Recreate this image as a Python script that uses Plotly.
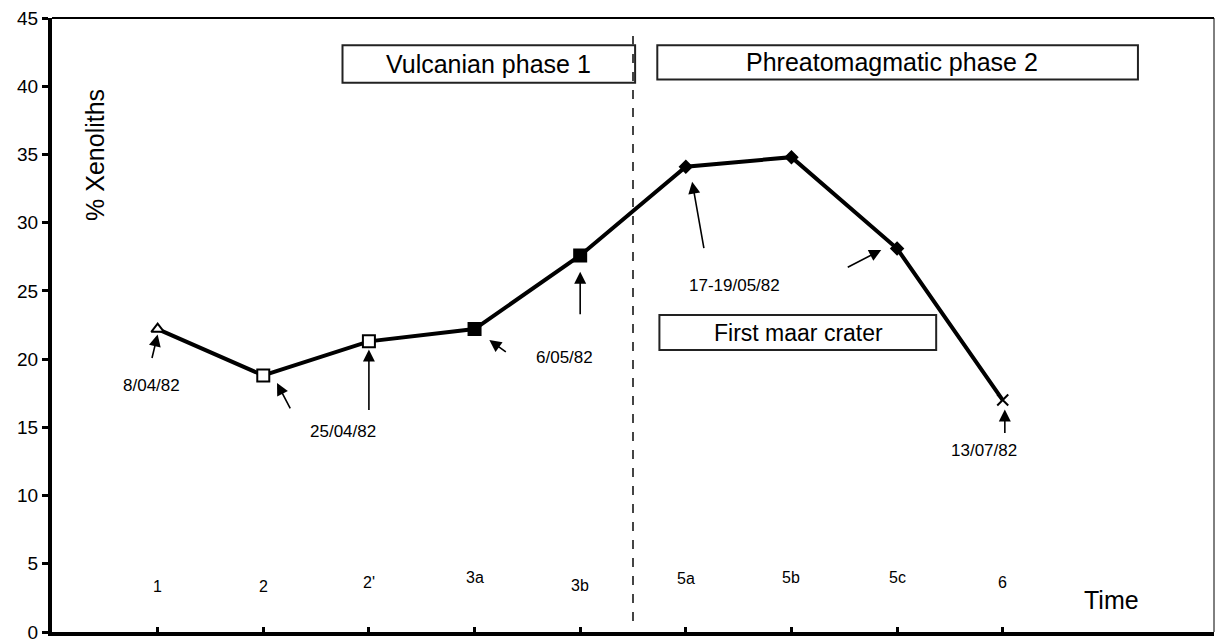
import plotly.graph_objects as go

# data
samples = ['1', '2', "2'", '3a', '3b', '5a', '5b', '5c', '6']
xenoliths = [22.2, 18.8, 21.3, 22.2, 27.6, 34.1, 34.8, 28.1, 17.0]
symbols = ['triangle-up', 'square', 'square', 'square', 'square',
           'diamond', 'diamond', 'diamond', 'x-thin']
fills = ['white', 'white', 'white', 'black', 'black', 'black', 'black', 'black', 'black']
sizes = [11, 12, 12, 12, 12, 9, 9, 9, 11]

dates = ['8/04/82', '25/04/82', '6/05/82', '17-19/05/82', '13/07/82']
phases = ['Vulcanian phase 1', 'Phreatomagmatic phase 2', 'First maar crater']

FONT = 'Liberation Sans, Arial, sans-serif'

fig = go.Figure()

fig.add_trace(go.Scatter(
    x=samples,
    y=xenoliths,
    mode='lines+markers',
    line=dict(color='black', width=4),
    marker=dict(
        symbol=symbols,
        color=fills,
        size=sizes,
        opacity=1,
        line=dict(color='black', width=2)
    ),
    showlegend=False,
    cliponaxis=False
))

# sample labels drawn inside the plot, just above the axis
label_y = [3.3, 3.3, 3.6, 4.0, 3.4, 3.9, 4.0, 4.0, 3.6]
for i, s in enumerate(samples):
    fig.add_annotation(x=i, y=label_y[i], text=s, showarrow=False,
                       font=dict(size=16, color='black', family=FONT))

# arrows: head position (data) and tail offset (pixels)
arrows = [
    (0.0, 21.8, -6, 25),
    (1.13, 18.25, 14, 27),
    (2.0, 20.7, 0, 62),
    (3.14, 21.4, 18, 13),
    (4.0, 26.4, 0, 44),
    (5.06, 33.0, 12, 68),
    (6.85, 28.0, -35, 18),
    (8.02, 16.3, 0, 25),
]
for hx, hy, ax, ay in arrows:
    fig.add_annotation(x=hx, y=hy, ax=ax, ay=ay, text='', showarrow=True,
                       arrowhead=2, arrowsize=1.5, arrowwidth=1.6, arrowcolor='black')

date_pos = [(-0.055, 18.1), (1.75, 14.66), (3.85, 20.1), (5.46, 25.4), (7.82, 13.3)]
for d, (dx, dy) in zip(dates, date_pos):
    fig.add_annotation(x=dx, y=dy, text=d, showarrow=False,
                       font=dict(size=17, color='black', family=FONT))

# phase boxes
boxes = [(1.75, 4.52, 40.25, 43.0), (4.73, 9.28, 40.5, 43.0), (4.75, 7.37, 20.67, 23.24)]
box_text = [(3.13, 41.6), (6.95, 41.75), (6.07, 21.95)]
box_font = [25, 25, 23]
for (x0, x1, y0, y1), (tx, ty), fs, name in zip(boxes, box_text, box_font, phases):
    fig.add_shape(type='rect', x0=x0, x1=x1, y0=y0, y1=y1,
                  line=dict(color='#222', width=2), fillcolor='white', layer='below')
    fig.add_annotation(x=tx, y=ty, text=name, showarrow=False,
                       font=dict(size=fs, color='black', family=FONT))

# phase boundary
fig.add_shape(type='line', x0=4.5, x1=4.5, y0=0.8, y1=44.0,
              line=dict(color='#444', width=2, dash='dash'))

# top and right frame
fig.add_shape(type='line', xref='paper', yref='paper', x0=0, x1=1, y0=1, y1=1,
              line=dict(color='black', width=2))
fig.add_shape(type='line', xref='paper', yref='paper', x0=1, x1=1, y0=0, y1=1,
              line=dict(color='black', width=1))

fig.add_annotation(x=9.03, y=2.35, text='Time', showarrow=False,
                   font=dict(size=25, color='black', family=FONT))
fig.add_annotation(xref='paper', yref='paper', x=0.037, y=0.777, text='% Xenoliths',
                   xanchor='center', yanchor='middle',
                   textangle=-90, showarrow=False,
                   font=dict(size=25, color='black', family=FONT))

fig.update_layout(
    width=1216, height=639,
    margin=dict(l=52, r=2, t=18, b=7),
    paper_bgcolor='white',
    plot_bgcolor='white',
    font=dict(family=FONT, color='black'),
    xaxis=dict(
        type='category',
        range=[-1, 10],
        automargin=False,
        showgrid=False,
        zeroline=False,
        showline=True, linecolor='black', linewidth=4,
        ticks='inside', ticklen=5, tickwidth=3, tickcolor='black',
        showticklabels=False
    ),
    yaxis=dict(
        range=[0, 45],
        tickvals=[0, 5, 10, 15, 20, 25, 30, 35, 40, 45],
        automargin=False,
        showgrid=False,
        zeroline=False,
        showline=True, linecolor='black', linewidth=4,
        ticks='outside', ticklen=6, tickwidth=3, tickcolor='black',
        ticklabeloverflow='allow',
        tickfont=dict(size=19, color='black', family=FONT)
    )
)

fig.write_html("out.html", config={'displayModeBar': False},
               post_script="document.body.style.margin='0';document.body.style.overflow='hidden';")
